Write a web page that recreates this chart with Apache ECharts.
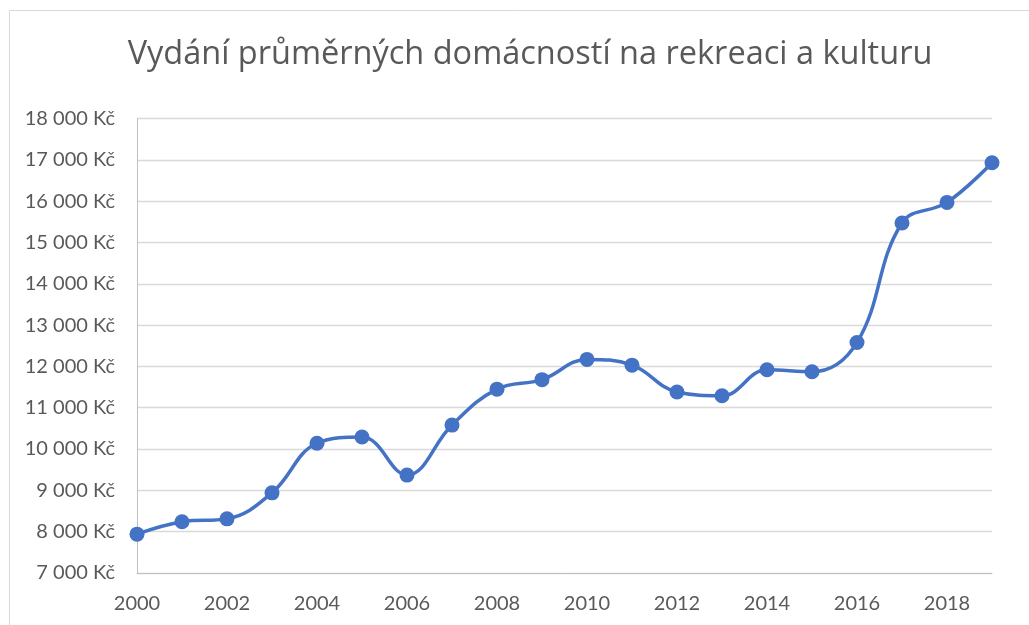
<!DOCTYPE html>
<html>
<head>
<meta charset="utf-8">
<title>Vydání průměrných domácností na rekreaci a kulturu</title>
<script src="https://cdn.jsdelivr.net/npm/echarts@6/dist/echarts.min.js"></script>
<style>
  html, body { margin: 0; padding: 0; background: #ffffff; }
  #chart { width: 1029px; height: 625px; }
</style>
</head>
<body>
<div id="chart"></div>
<script>
// Roky a průměrné výdaje domácností na rekreaci a kulturu (Kč)
const years = ['2000','2001','2002','2003','2004','2005','2006','2007','2008','2009',
               '2010','2011','2012','2013','2014','2015','2016','2017','2018','2019'];
const spending = [7940, 8240, 8310, 8940, 10140, 10290, 9370, 10580, 11450, 11680,
                  12170, 12030, 11380, 11290, 11920, 11870, 12580, 15470, 15970, 16930];
const yMin = 7000;
const yMax = 18000;
const yStep = 1000;

const textColor = '#595959';
const labelFont = 'Lato, "Noto Sans", sans-serif';
const titleFont = '"Open Sans", Lato, sans-serif';

function formatKc(v) {
  return String(v).replace(/\B(?=(\d{3})+(?!\d))/g, ' ') + ' Kč';
}

const chart = echarts.init(document.getElementById('chart'), null, { renderer: 'canvas' });
chart.setOption({
  animation: false,
  backgroundColor: '#ffffff',
  graphic: [{
    type: 'rect',
    shape: { x: 9.5, y: 10.5, width: 1100, height: 700 },
    style: { fill: 'none', stroke: '#d9d9d9', lineWidth: 1 },
    silent: true,
    z: -1
  }],
  title: {
    text: 'Vydání průměrných domácností na rekreaci a kulturu',
    left: 525,
    textAlign: 'center',
    top: 33,
    textStyle: {
      color: textColor,
      fontFamily: titleFont,
      fontSize: 32.5,
      fontWeight: 'normal'
    }
  },
  grid: {
    left: 137,
    right: 37,
    top: 118.5,
    bottom: 52,
    containLabel: false
  },
  xAxis: {
    type: 'category',
    data: years,
    boundaryGap: false,
    axisLine: { show: true, lineStyle: { color: '#bfbfbf', width: 1 } },
    axisTick: { show: false },
    axisLabel: {
      interval: 1,
      color: textColor,
      fontFamily: labelFont,
      fontSize: 20,
      margin: 21
    },
    splitLine: { show: false }
  },
  yAxis: {
    type: 'value',
    min: yMin,
    max: yMax,
    interval: yStep,
    axisLine: { show: true, lineStyle: { color: '#bfbfbf', width: 1 } },
    axisTick: { show: false },
    axisLabel: {
      color: textColor,
      fontFamily: labelFont,
      fontSize: 20,
      margin: 22,
      formatter: formatKc
    },
    splitLine: { show: true, lineStyle: { color: '#d9d9d9', width: 1.3 } }
  },
  series: [{
    type: 'line',
    data: spending,
    smooth: 0.4,
    symbol: 'circle',
    symbolSize: 15,
    lineStyle: { color: '#4472C4', width: 3.5 },
    itemStyle: { color: '#4472C4' },
    clip: false
  }]
});
</script>
</body>
</html>
